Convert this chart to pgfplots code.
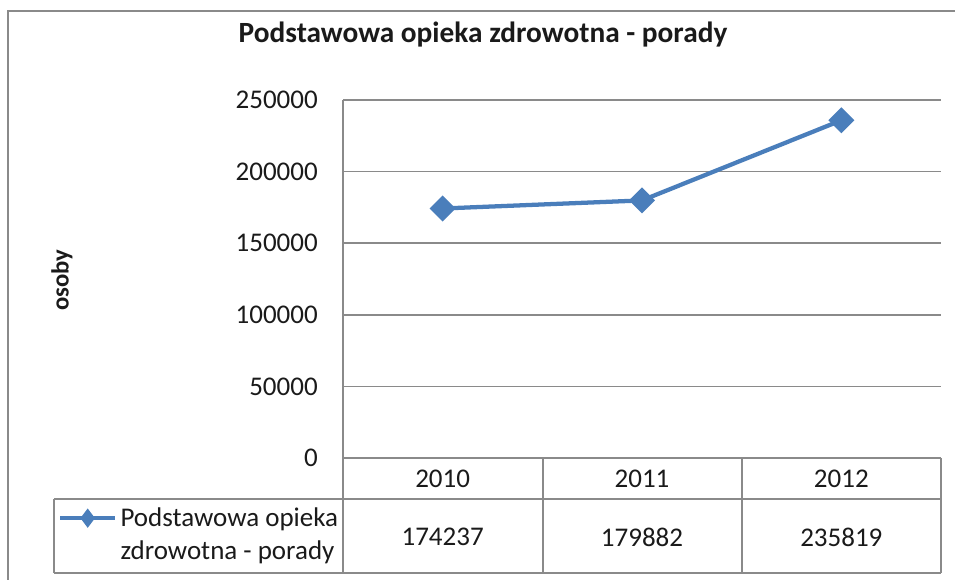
\documentclass[border=0pt]{standalone}
\usepackage{pgfplots}
\pgfplotsset{compat=1.18}
\usepackage{fontspec}
\setmainfont{Carlito}
\definecolor{serblue}{HTML}{4A7EBB}
\definecolor{gridgray}{HTML}{8A8A8A}
\definecolor{framegray}{HTML}{8A8A8A}
\definecolor{txt}{HTML}{1A1A1A}
\newcommand{\fs}{\fontsize{20.25pt}{24.75pt}\selectfont}
\begin{document}
\begin{tikzpicture}[x=0.75pt,y=-0.75pt]
\useasboundingbox (0,0) rectangle (955,579);
\clip (0,0) rectangle (955,579);
\draw[framegray, line width=1.8pt] (8,11) rectangle (975,600);
% table grid
\draw[gridgray, line width=1.1pt] (343,458) -- (343,573);
\draw[gridgray, line width=1.1pt] (543,458) -- (543,573);
\draw[gridgray, line width=1.1pt] (742,458) -- (742,573);
\draw[gridgray, line width=1.1pt] (941,458) -- (941,573);
\draw[gridgray, line width=1.1pt] (54,499) -- (941,499);
\draw[gridgray, line width=1.1pt] (54,573) -- (941,573);
\draw[gridgray, line width=1.1pt] (54,499) -- (54,573);
\begin{axis}[
  at={(257.25pt,-343.5pt)}, anchor=south west,
  scale only axis, width=448.5pt, height=268.5pt,
  xmin=-0.5, xmax=2.5, ymin=0, ymax=250000,
  xtick={0,1,2}, xticklabels={2010,2011,2012},
  ytick={0,50000,100000,150000,200000,250000},
  yticklabels={0,50000,100000,150000,200000,250000},
  scaled y ticks=false,
  axis x line=bottom, axis y line=left,
  axis line style={gridgray, line width=1.1pt, -},
  major tick length=0pt,
  ymajorgrids, grid style={gridgray, line width=1.1pt},
  tick label style={font=\fs, text=txt, inner sep=0pt},
  yticklabel style={anchor=east, xshift=-18.75pt},
  xticklabel style={anchor=center, yshift=-15.75pt},
  clip=false,
  every axis title shift/.style={},
  title={Podstawowa opieka zdrowotna - porady},
  title style={at={(axis description cs:0.2341,1.160)}, anchor=center, inner sep=0pt, font=\fontsize{22pt}{26pt}\selectfont\bfseries, text=txt},
  ylabel={osoby},
  ylabel style={at={(axis description cs:-0.470,0.497)}, anchor=center, inner sep=0pt, font=\fontsize{18.5pt}{22pt}\selectfont\bfseries, text=txt},
  legend cell align=left,
  legend style={at={(axis description cs:-0.4833,-0.1145)}, anchor=north west, draw=none, fill=none, inner xsep=4.5pt, inner ysep=4pt, font=\fs, text=txt, nodes={align=left, inner xsep=4pt}},
  legend image code/.code={%
    \path[draw=none, fill=none] (0pt,-3pt) rectangle (41.25pt,3pt);
    \draw[overlay, mark repeat=2, mark phase=2, #1, mark=diamond*, mark size=4.6pt, mark options={solid}]
      plot coordinates {(0pt,12pt)(20.6pt,12pt)(41.25pt,12pt)};},
]
\addplot[serblue, line width=3.2pt, mark=square*, mark size=5.3pt, mark options={rotate=45, solid}]
  coordinates {(0,174237) (1,179882) (2,235819)};
\addlegendentry{Podstawowa opieka\\zdrowotna - porady}
\node[font=\fs, text=txt, anchor=center] at (axis cs:0,0) [yshift=-59.25pt] {174237};
\node[font=\fs, text=txt, anchor=center] at (axis cs:1,0) [yshift=-59.25pt] {179882};
\node[font=\fs, text=txt, anchor=center] at (axis cs:2,0) [yshift=-59.25pt] {235819};
\end{axis}
\end{tikzpicture}
\end{document}
